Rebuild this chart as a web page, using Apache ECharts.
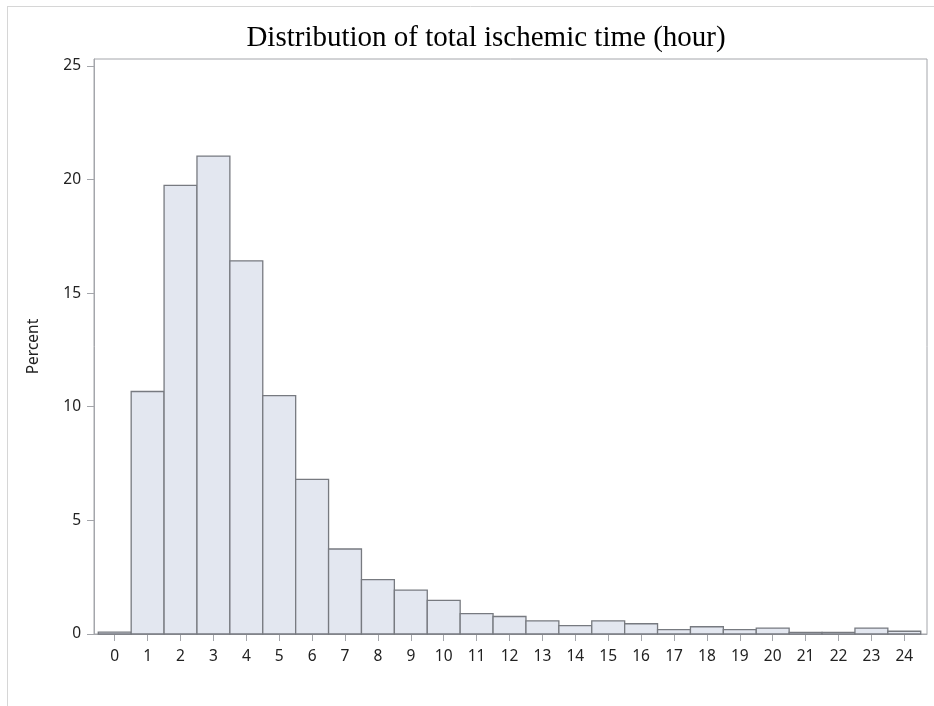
<!DOCTYPE html>
<html>
<head>
<meta charset="utf-8">
<script src="https://cdn.jsdelivr.net/npm/echarts@6/dist/echarts.min.js"></script>
<style>html,body{margin:0;padding:0;background:#fff}#c{width:934px;height:706px}</style>
</head>
<body>
<div id="c"></div>
<script>
const hours = [0,1,2,3,4,5,6,7,8,9,10,11,12,13,14,15,16,17,18,19,20,21,22,23,24];
const percent = [0.08,10.67,19.74,21.03,16.42,10.49,6.8,3.74,2.39,1.93,1.48,0.9,0.77,0.58,0.37,0.58,0.45,0.19,0.32,0.19,0.26,0.07,0.07,0.26,0.12];
const yTicks = [0,5,10,15,20,25];
const titleText = 'Distribution of total ischemic time (hour)';

const chart = echarts.init(document.getElementById('c'), null, {renderer:'canvas'});
const axisGray = '#a4a6ab';
const labelStyle = {color:'#222', fontFamily:'"Noto Sans", "Open Sans", sans-serif', fontSize:15.5};
chart.setOption({
  animation:false,
  backgroundColor:'#fff',
  title:{text:titleText, left:481, textAlign:'center', top:19,
    textStyle:{fontFamily:'"Liberation Serif", "Times New Roman", serif', fontWeight:'normal', fontSize:29, color:'#000'}},
  graphic:[
    {type:'line', shape:{x1:7,y1:6.5,x2:934,y2:6.5}, style:{stroke:'#d6d6d6', lineWidth:1}},
    {type:'line', shape:{x1:7.5,y1:6,x2:7.5,y2:706}, style:{stroke:'#d6d6d6', lineWidth:1}}
  ],
  grid:{left:94, right:7, top:59, bottom:72, show:true, borderColor:axisGray, borderWidth:1},
  xAxis:{type:'value', min:-0.63, max:24.69,
    axisLine:{show:true, onZero:false, lineStyle:{color:axisGray}},
    axisTick:{show:true, length:7, lineStyle:{color:axisGray}, customValues:hours},
    axisLabel:{...labelStyle, margin:15, customValues:hours},
    splitLine:{show:false}},
  yAxis:{type:'value', min:0, max:25.3,
    name:'Percent', nameLocation:'middle', nameGap:52,
    nameTextStyle:{...labelStyle},
    axisLine:{show:true, onZero:false, lineStyle:{color:axisGray}},
    axisTick:{show:true, length:7, lineStyle:{color:axisGray}, customValues:yTicks},
    axisLabel:{...labelStyle, margin:13, customValues:yTicks},
    splitLine:{show:false}},
  series:[{
    type:'custom',
    data: hours.map((h,i)=>[h, percent[i]]),
    encode:{x:0, y:1},
    renderItem:function(params, api){
      const x = api.value(0), y = api.value(1);
      const p1 = api.coord([x-0.5, y]);
      const p2 = api.coord([x+0.5, 0]);
      return {type:'rect',
        shape:{x:p1[0], y:p1[1], width:p2[0]-p1[0], height:p2[1]-p1[1]},
        style:{fill:'#e3e7f0', stroke:'#777a80', lineWidth:1.3}};
    }
  }]
});
</script>
</body>
</html>
